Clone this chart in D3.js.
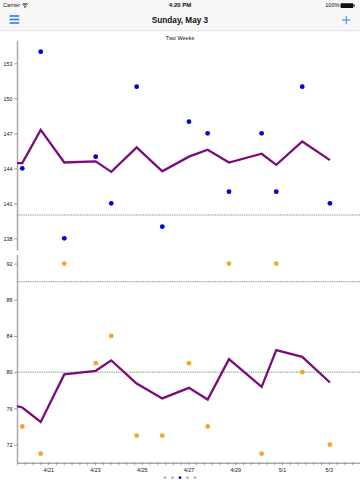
<!DOCTYPE html>
<html>
<head>
<meta charset="utf-8">
<script src="https://cdn.jsdelivr.net/npm/d3@7"></script>
<style>
html,body{margin:0;padding:0;background:#fff;}
svg{display:block;font-family:"Liberation Sans",Arial,Helvetica,sans-serif;}
</style>
</head>
<body>
<svg id="chart" width="360" height="480"></svg>
<script>
// ---- data ----
const readingTimes = ["2015-04-19T21:26","2015-04-20T16:19","2015-04-21T16:32","2015-04-23T00:45","2015-04-23T16:45","2015-04-24T18:48","2015-04-25T21:06","2015-04-27T00:29","2015-04-27T19:41","2015-04-28T17:33","2015-04-30T03:04","2015-04-30T18:04","2015-05-01T20:44","2015-05-03T01:09"];
const systolic  = [144,154,138,145,141,151,139,148,147,142,147,142,151,141];
const diastolic = [74,71,92,81,84,73,73,81,74,92,71,92,80,72];
const averageTimes = ["2015-04-19T16:00"].concat(readingTimes);
const systolicAvg  = [144.45,144.45,147.3,144.5,144.6,143.7,145.8,143.75,145.0,145.6,144.5,145.25,144.3,146.3,144.7];
const diastolicAvg = [76.24,76.1,74.5,79.75,80.15,81.3,78.75,77.1,78.27,76.98,81.44,78.37,82.43,81.7,78.86];
const topTicks = [138,141,144,147,150,153];
const bottomTicks = [72,76,80,84,88,92];
const topDomain = [137,155];
const bottomDomain = [70,93];
const xDomain = ["2015-04-19T16:00","2015-05-04T08:00"];
const systolicLimit = 140, diastolicLimit = 90, diastolicGoal = 80;
const title = "Two Weeks";
const navTitle = "Sunday, May 3";

// ---- drawing ----
const svg = d3.select("#chart");
const parse = d3.timeParse("%Y-%m-%dT%H:%M");
const blue = "#1a7ae8";

// status + nav bar
svg.append("rect").attr("x",0).attr("y",0).attr("width",360).attr("height",30.5).attr("fill","#f7f7f8");
svg.append("line").attr("x1",0).attr("x2",360).attr("y1",30.75).attr("y2",30.75).attr("stroke","#c9c9cc").attr("stroke-width",0.5);
svg.append("text").attr("x",3).attr("y",7.3).attr("font-size",5.6).attr("fill","#111").text("Carrier");
// wifi icon
const wifi = svg.append("g").attr("transform","translate(25,7.2)");
[4.2,2.8,1.4].forEach(r=>{
  wifi.append("path").attr("d",d3.arc()({innerRadius:r-0.8,outerRadius:r,startAngle:-Math.PI/4,endAngle:Math.PI/4})).attr("fill","#111");
});
wifi.append("circle").attr("r",0.6).attr("fill","#111");
svg.append("text").attr("x",180).attr("y",7.3).attr("text-anchor","middle").attr("font-size",6).attr("font-weight",600).attr("fill","#111").text("4:20 PM");
svg.append("text").attr("x",339.5).attr("y",7.3).attr("text-anchor","end").attr("font-size",5.6).attr("fill","#111").text("100%");
svg.append("rect").attr("x",340.5).attr("y",3.3).attr("width",13).attr("height",4.6).attr("rx",0.8).attr("fill","#111");
svg.append("rect").attr("x",353.8).attr("y",4.7).attr("width",1).attr("height",1.8).attr("fill","#111");
// hamburger
[16,19.5,23].forEach(y=>svg.append("rect").attr("x",9.5).attr("y",y-0.8).attr("width",9.8).attr("height",1.6).attr("rx",0.4).attr("fill",blue));
svg.append("text").attr("x",180).attr("y",23).attr("text-anchor","middle").attr("font-size",8.2).attr("font-weight",600).attr("fill","#111").text(navTitle);
// plus
svg.append("line").attr("x1",342).attr("x2",350.5).attr("y1",20).attr("y2",20).attr("stroke",blue).attr("stroke-width",0.9);
svg.append("line").attr("x1",346.25).attr("x2",346.25).attr("y1",15.8).attr("y2",24.2).attr("stroke",blue).attr("stroke-width",0.9);

// chart title
svg.append("text").attr("x",180).attr("y",39.8).attr("text-anchor","middle").attr("font-size",5.5).attr("fill","#111").text(title);

// scales
const x = d3.scaleTime().domain(xDomain.map(parse)).range([17,360]);
const yTop = d3.scaleLinear().domain(topDomain).range([250,40]);
const yBot = d3.scaleLinear().domain(bottomDomain).range([462.7,254.5]);

const axisColor = "#a9a9a9";
function styleAxis(g){
  g.select(".domain").attr("stroke",axisColor).attr("stroke-width",1.5);
  g.selectAll(".tick line").attr("stroke","#666").attr("stroke-width",0.6);
  g.selectAll(".tick text").attr("fill","#111").attr("font-size",5.4).attr("font-family","Liberation Sans,Arial,sans-serif");
}
const gTop = svg.append("g").attr("transform","translate(17,0)")
  .call(d3.axisLeft(yTop).tickValues(topTicks).tickSize(3).tickSizeOuter(0).tickPadding(1.5));
styleAxis(gTop);
const gBot = svg.append("g").attr("transform","translate(17,0)")
  .call(d3.axisLeft(yBot).tickValues(bottomTicks).tickSize(3).tickSizeOuter(0).tickPadding(1.5));
styleAxis(gBot);

const fmt = d3.timeFormat("%-m/%-d");
const gX = svg.append("g").attr("transform","translate(0,462.7)")
  .call(d3.axisBottom(x).ticks(d3.timeHour.every(8)).tickSize(2.5).tickSizeOuter(0).tickPadding(2.5)
    .tickFormat(d => (d.getHours()===0 && d.getDate()%2===1) ? fmt(d) : ""));
gX.select(".domain").attr("stroke",axisColor).attr("stroke-width",1.5);
gX.selectAll(".tick line").attr("stroke","#666").attr("stroke-width",0.6);
gX.selectAll(".tick text").attr("fill","#111").attr("font-size",5.4);

// reference lines
function refLine(yv, color){
  svg.append("line").attr("x1",17).attr("x2",360).attr("y1",yv).attr("y2",yv)
    .attr("stroke",color).attr("stroke-width",0.8).attr("stroke-dasharray","1,0.8");
}
refLine(yTop(systolicLimit),"#666");
refLine(yBot(diastolicLimit),"#666");
refLine(yBot(diastolicGoal),"#2d8a2d");

const times = readingTimes.map(parse);
const avgT = averageTimes.map(parse);
const purple = "#7a0c7c";
const lineTop = d3.line().x((d,i)=>x(avgT[i])).y(d=>yTop(d));
const lineBot = d3.line().x((d,i)=>x(avgT[i])).y(d=>yBot(d));
svg.append("path").datum(systolicAvg).attr("d",lineTop).attr("fill","none").attr("stroke",purple).attr("stroke-width",2.3).attr("stroke-linejoin","miter");
svg.append("path").datum(diastolicAvg).attr("d",lineBot).attr("fill","none").attr("stroke",purple).attr("stroke-width",2.3).attr("stroke-linejoin","miter");

svg.append("g").selectAll("circle").data(systolic).join("circle")
  .attr("cx",(d,i)=>x(times[i])).attr("cy",d=>yTop(d)).attr("r",2.4).attr("fill","#0000dd");
svg.append("g").selectAll("circle").data(diastolic).join("circle")
  .attr("cx",(d,i)=>x(times[i])).attr("cy",d=>yBot(d)).attr("r",2.4).attr("fill","#f5a623");

// page dots
[165,172.5,180,187.5,195].forEach((cx,i)=>svg.append("circle").attr("cx",cx).attr("cy",477.7).attr("r",1.4).attr("fill",i===2?"#0000dd":"#b5b5b5"));
</script>
</body>
</html>
